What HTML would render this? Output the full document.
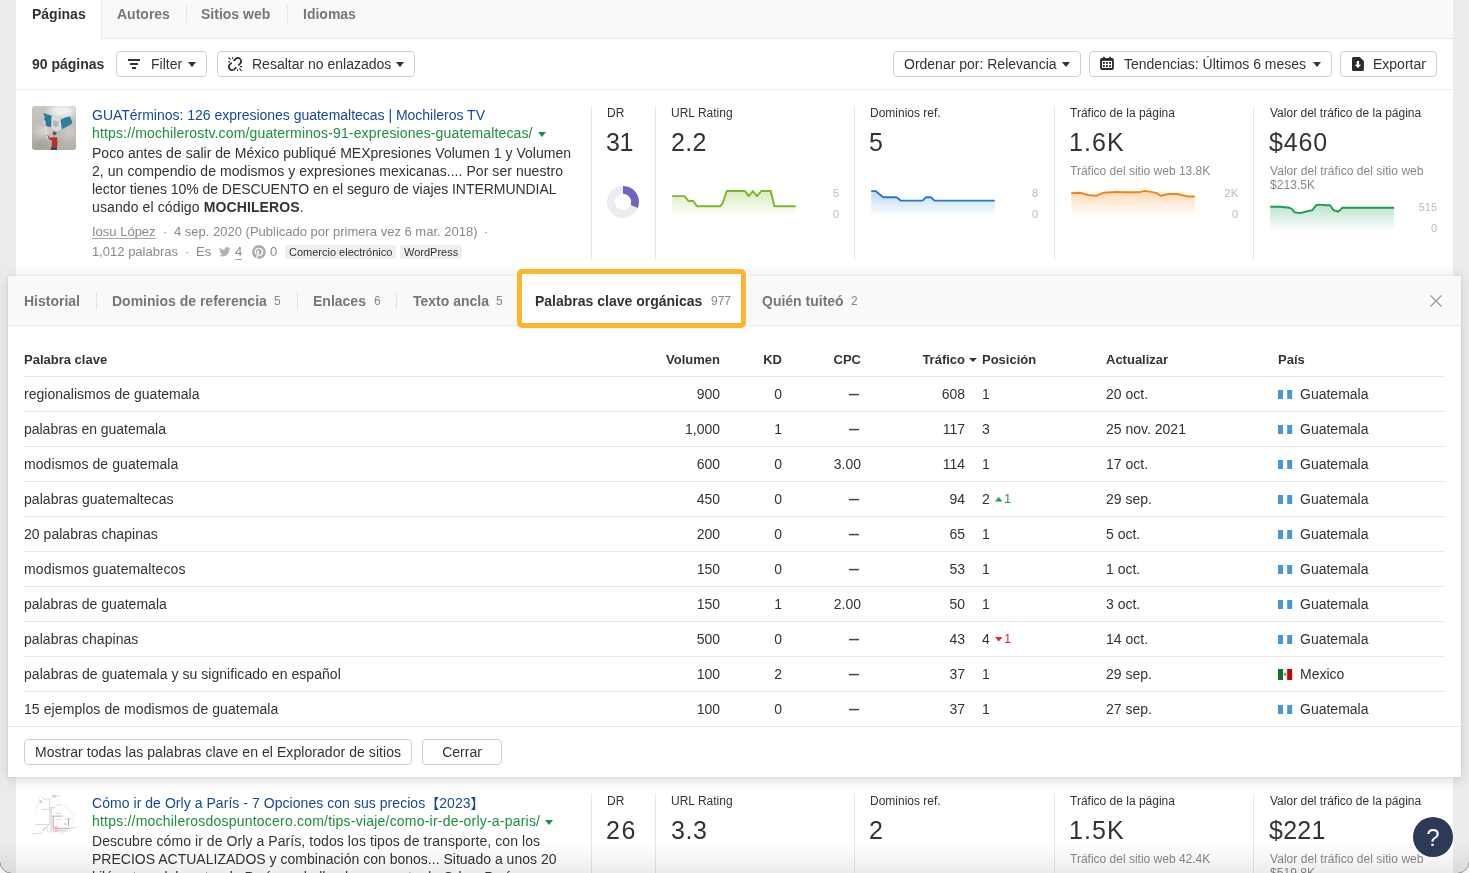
<!DOCTYPE html>
<html lang="es">
<head>
<meta charset="utf-8">
<title>Content Explorer</title>
<style>
*{box-sizing:border-box;margin:0;padding:0}
html,body{width:1469px;height:873px;overflow:hidden}
body{background:#ebecee;font-family:"Liberation Sans","Noto Sans CJK JP",sans-serif;font-size:14px;color:#333;position:relative}
#root{position:absolute;left:0;top:0;width:1469px;height:873px;will-change:transform}
.a{position:absolute;white-space:nowrap}
#panel{position:absolute;left:16px;top:0;width:1437px;height:873px;background:#fff}
#tabbar{position:absolute;left:16px;top:0;width:1437px;height:39px;background:#f9f9f9;border-bottom:1px solid #e9e9eb}
#tabact{position:absolute;left:16px;top:0;width:86px;height:39px;background:#fff;border-right:1px solid #e9e9eb}
.tab{position:absolute;top:6px;font-weight:bold;font-size:14px;line-height:16px;color:#777;white-space:nowrap}
.tsep{position:absolute;top:5px;width:1px;height:18px;background:#e6e6e6}
.hline{position:absolute;height:1px;background:#ececec}
.btn{position:absolute;top:51px;height:26px;border:1px solid #cfcfcf;border-radius:4px;background:#fff}
.bt{position:absolute;top:55px;font-size:14px;line-height:18px;color:#333;white-space:nowrap}
.caret{position:absolute;width:0;height:0;border-left:4px solid transparent;border-right:4px solid transparent;border-top:5px solid #333}
.vline{position:absolute;width:1px;background:#e8e8e8}
.lbl{position:absolute;font-size:12px;line-height:14px;color:#333;white-space:nowrap}
.big{position:absolute;font-size:25px;line-height:30px;color:#333;white-space:nowrap}
.sub{position:absolute;font-size:12px;line-height:14px;color:#888;white-space:nowrap}
.ax{position:absolute;font-size:11px;line-height:12px;color:#bbb;text-align:right;width:30px;white-space:nowrap}
.title{position:absolute;font-size:14px;line-height:18px;color:#14489e;white-space:nowrap}
.url{position:absolute;font-size:14px;line-height:18px;color:#19903f;white-space:nowrap}
.desc{position:absolute;font-size:14px;line-height:18px;color:#333;white-space:nowrap}
.meta{position:absolute;font-size:13px;line-height:18px;color:#8a8a8a;white-space:nowrap}
.chip{position:absolute;height:14px;border-radius:3px;background:#eee;font-size:11px;line-height:14px;color:#333;padding:0 4px;white-space:nowrap}
svg{position:absolute;overflow:visible}
#ov{position:absolute;left:8px;top:276px;width:1453px;height:501px;background:#fff;box-shadow:0 0 0 1px rgba(0,0,0,.035),0 2px 16px rgba(0,0,0,.12),0 5px 8px rgba(0,0,0,.045)}
#ovbar{position:absolute;left:8px;top:276px;width:1453px;height:50px;background:#f9f9f9;border-bottom:1px solid #e9e9e9}
.otab{position:absolute;top:293px;font-weight:bold;font-size:14px;line-height:16px;color:#777;white-space:nowrap}
.ocnt{position:absolute;top:294px;font-size:12px;line-height:14px;color:#888;white-space:nowrap}
.osep{position:absolute;top:292px;width:1px;height:18px;background:#e4e4e4}
#hl{position:absolute;left:517px;top:269px;width:229px;height:59px;border:5px solid #fdb52f;border-radius:5px;background:#fff}
.th{position:absolute;top:352px;font-weight:bold;font-size:13px;line-height:15px;color:#333;white-space:nowrap}
.td{position:absolute;font-size:14px;line-height:16px;color:#333;white-space:nowrap}
.r{text-align:right}
.dash{transform:scaleX(.72);transform-origin:100% 50%;font-weight:bold;color:#444}
.up{color:#1f9d55;font-size:13px}
.dn{color:#e02b2b;font-size:13px}
.obtn{position:absolute;top:739px;height:26px;border:1px solid #cfcfcf;border-radius:4px;background:#fff;font-size:14px;line-height:24px;color:#333;text-align:center;white-space:nowrap}
#botgrad{position:absolute;left:0;top:843px;width:1469px;height:30px;background:linear-gradient(rgba(0,0,0,0),rgba(0,0,0,.075))}
#help{position:absolute;left:1413px;top:817px;width:40px;height:40px;border-radius:20px;background:#2c3a57;color:#fff;font-size:24px;line-height:42px;text-align:center}
</style>
</head>
<body>
<div id="root">
<div id="panel"></div>
<div id="tabbar"></div><div id="tabact"></div>
<div class="tab" style="left:32px;color:#333">Páginas</div>
<div class="tab" style="left:117px">Autores</div>
<div class="tsep" style="left:186px"></div>
<div class="tab" style="left:201px">Sitios web</div>
<div class="tsep" style="left:287px"></div>
<div class="tab" style="left:303px">Idiomas</div>
<div class="a" style="left:32px;top:55px;font-weight:bold;font-size:14px;line-height:18px">90 páginas</div>
<div class="btn" style="left:116px;width:91px"></div>
<svg style="left:128px;top:59px" width="12" height="10" viewBox="0 0 12 10"><rect x="0" y="0" width="12" height="2" fill="#333"/><rect x="2" y="4" width="8" height="2" fill="#333"/><rect x="4" y="8" width="4" height="2" fill="#333"/></svg>
<div class="bt" style="left:151px">Filter</div>
<div class="caret" style="left:188px;top:62px"></div>
<div class="btn" style="left:217px;width:198px"></div>
<svg style="left:228px;top:57px" width="14" height="14" viewBox="0 0 14 14" fill="none" stroke="#2b2b2b"><path d="M5.6 3.8 L8.1 1.5 A3.3 3.3 0 0 1 12.6 6.1 L10.3 8.4 M3.7 5.7 L1.4 8 A3.3 3.3 0 0 0 5.9 12.6 L8.4 10.3" stroke-width="1.7"/><path d="M0.4 0.5 L2.6 2.6 M4.5 0.3 V1.9 M0.1 4.7 H2.1 M12 9.6 H14 M9.6 12.2 V14 M11.4 11.4 L13.7 13.8" stroke-width="1.1"/></svg>
<div class="bt" style="left:252px">Resaltar no enlazados</div>
<div class="caret" style="left:396px;top:62px"></div>
<div class="btn" style="left:893px;width:188px"></div>
<div class="bt" style="left:904px">Ordenar por: Relevancia</div>
<div class="caret" style="left:1062px;top:62px"></div>
<div class="btn" style="left:1089px;width:243px"></div>
<svg style="left:1100px;top:57px" width="14" height="13" viewBox="0 0 14 13"><rect x="3" y="-0.3" width="1.9" height="2.4" rx="0.7" fill="#2b2b2b"/><rect x="9" y="-0.3" width="1.9" height="2.4" rx="0.7" fill="#2b2b2b"/><rect x="0.1" y="0.9" width="13.7" height="12" rx="1.9" fill="#2b2b2b"/><rect x="2" y="3.9" width="10" height="7" fill="#fff"/><g fill="#1c1c1c"><rect x="3" y="5" width="1.8" height="1.8"/><rect x="6.05" y="5" width="1.8" height="1.8"/><rect x="9.1" y="5" width="1.8" height="1.8"/><rect x="3" y="8.1" width="1.8" height="1.8"/><rect x="6.05" y="8.1" width="1.8" height="1.8"/><rect x="9.1" y="8.1" width="1.8" height="1.8"/></g></svg>
<div class="bt" style="left:1124px">Tendencias: Últimos 6 meses</div>
<div class="caret" style="left:1313px;top:62px"></div>
<div class="btn" style="left:1340px;width:97px"></div>
<svg style="left:1352px;top:57px" width="12" height="14" viewBox="0 0 12 14"><path d="M1.5 0 H7.7 L11.9 4 V12.5 a1.5 1.5 0 0 1 -1.5 1.5 H1.5 a1.5 1.5 0 0 1 -1.5 -1.5 V1.5 A1.5 1.5 0 0 1 1.5 0 Z" fill="#2b2b2b"/><path d="M4.8 3.9 H7.1 V7.8 H9.1 L5.95 11.1 L2.8 7.8 H4.8 Z" fill="#fff"/></svg>
<div class="bt" style="left:1373px">Exportar</div>
<div class="hline" style="left:16px;top:89px;width:1437px"></div>
<svg style="left:32px;top:106px" width="44" height="44" viewBox="0 0 44 44">
<defs><clipPath id="tc1"><rect width="44" height="44" rx="3"/></clipPath>
<filter id="bl1" x="-10%" y="-10%" width="120%" height="120%"><feGaussianBlur stdDeviation="0.45"/></filter>
<filter id="bl2" x="-30%" y="-30%" width="160%" height="160%"><feGaussianBlur stdDeviation="3"/></filter>
<linearGradient id="sky" x1="0" y1="0" x2="0" y2="1"><stop offset="0" stop-color="#c9c6c1"/><stop offset="0.6" stop-color="#bdb9b3"/><stop offset="1" stop-color="#aeaaa4"/></linearGradient></defs>
<g clip-path="url(#tc1)"><rect width="44" height="44" fill="url(#sky)"/>
<g filter="url(#bl2)"><ellipse cx="30" cy="5" rx="13" ry="7" fill="#f1f1f0"/><ellipse cx="12" cy="25" rx="8" ry="4" fill="#dedcd8"/><ellipse cx="37" cy="27" rx="7" ry="6" fill="#cfccc7"/><ellipse cx="8" cy="40" rx="10" ry="4" fill="#a39f99"/><ellipse cx="36" cy="41" rx="9" ry="4" fill="#b8b4ae"/></g>
<g filter="url(#bl1)">
<path d="M11.2 7.4 L13.2 19.5 L15.9 33" stroke="#e4e4e4" stroke-width="0.8" fill="none"/>
<path d="M10.7 6.9 L19.7 9.8 L19.4 21 L15.8 20.6 L13.6 19.4 L13.9 16 L12 13.2 L12.6 10.4 Z" fill="#2b7a9a"/>
<path d="M19.7 9.8 L28.6 13.8 L29.4 22.9 L26.5 25 L23.4 25 L19.4 21.4 Z" fill="#d9dde0"/>
<path d="M28.6 13.8 L33 11.6 L38.1 10.5 L40.2 16.2 L38.8 18.4 L29.9 23.3 Z" fill="#2f7f9e"/>
<path d="M21.2 14.2 L26.8 15.4 L26.4 19.6 L23.6 21.4 L21 19.2 Z" fill="#aeb9be"/>
<circle cx="22.5" cy="27.4" r="1.9" fill="#6b5a55"/><path d="M21 25.9 h3.4 v1 h-3.4z" fill="#4f5458"/>
<path d="M14.6 29 L15.6 30 L17 33 L20 34.6 L19.6 41.4 L25 41.4 L25.6 35.6 L24.8 31.3 L21 31.3 L17.9 32 L16 29.4 Z" fill="#b4302d"/>
<path d="M18.9 41.2 H25 V44 H18.9 Z" fill="#44433f"/></g></g></svg>
<div class="title" style="left:92px;top:106px;letter-spacing:-0.013px;">GUATérminos: 126 expresiones guatemaltecas | Mochileros TV</div>
<div class="url" style="left:92px;top:124px;letter-spacing:0.149px;">https://mochilerostv.com/guaterminos-91-expresiones-guatemaltecas/ <span style="display:inline-block;width:0;height:0;border-left:4px solid transparent;border-right:4px solid transparent;border-top:5px solid #19903f;vertical-align:1px;margin-left:1px;letter-spacing:0"></span></div>
<div class="desc" style="left:92px;top:144px;letter-spacing:0.017px;">Poco antes de salir de México publiqué MEXpresiones Volumen 1 y Volumen</div>
<div class="desc" style="left:92px;top:162px;letter-spacing:0.058px;">2, un compendio de modismos y expresiones mexicanas.... Por ser nuestro</div>
<div class="desc" style="left:92px;top:180px;letter-spacing:-0.044px;">lector tienes 10% de DESCUENTO en el seguro de viajes INTERMUNDIAL</div>
<div class="desc" style="left:92px;top:198px;letter-spacing:0.113px;">usando el código <b>MOCHILEROS</b>.</div>
<div class="meta" style="left:92px;top:223px"><span style="border-bottom:1px solid #aaa;display:inline-block;line-height:12px">Iosu López</span></div><div class="meta" style="left:163px;top:223px">·</div><div class="meta" style="left:174px;top:223px">4 sep. 2020 (Publicado por primera vez 6 mar. 2018)</div><div class="meta" style="left:484px;top:223px">·</div><div class="meta" style="left:92px;top:243px">1,012 palabras</div><div class="meta" style="left:185px;top:243px">·</div><div class="meta" style="left:196px;top:243px">Es</div><svg style="left:219px;top:247px" width="11.5" height="9.8" viewBox="0 0 24 20"><path fill="#b2b2b2" d="M24 2.4c-.9.4-1.8.7-2.8.8 1-.6 1.8-1.600 2.200-2.700-1 .6-2 1-3.100 1.200C19.400.7 18.100 0 16.600 0c-2.700 0-4.900 2.200-4.900 4.900 0 .4 0 .8.100 1.100C7.700 5.800 4.100 3.900 1.700.9 1.200 1.700 1 2.500 1 3.400c0 1.700.9 3.200 2.200 4.100-.8 0-1.600-.2-2.200-.6v.1c0 2.400 1.700 4.400 3.900 4.800-.4.100-.8.200-1.300.2-.3 0-.6 0-.9-.1.600 2 2.400 3.400 4.600 3.400-1.700 1.300-3.800 2.100-6.100 2.100-.4 0-.8 0-1.200-.1C2.200 18.700 4.800 19.500 7.500 19.500c9.100 0 14-7.500 14-14v-.6c1-.7 1.800-1.600 2.500-2.500z"/></svg><div class="meta" style="left:235px;top:243px"><span style="border-bottom:1px solid #aaa;display:inline-block;line-height:15px">4</span></div><svg style="left:252px;top:245px" width="13.8" height="13.8" viewBox="0 0 24 24"><path fill="#adadad" d="M12 0C5.400 0 0 5.400 0 12c0 5.100 3.200 9.400 7.600 11.200-.1-.9-.2-2.400 0-3.400.2-.9 1.400-6 1.400-6s-.4-.7-.4-1.800c0-1.700 1-2.900 2.200-2.900 1 0 1.500.8 1.500 1.700 0 1-.7 2.600-1 4-.3 1.200.6 2.200 1.800 2.200 2.100 0 3.800-2.200 3.800-5.500 0-2.900-2.100-4.900-5-4.900-3.400 0-5.400 2.600-5.400 5.200 0 1 .4 2.100.9 2.700.1.100.1.200.1.300-.1.400-.3 1.200-.3 1.400-.1.200-.2.300-.4.200-1.500-.7-2.400-2.900-2.400-4.600 0-3.800 2.800-7.200 7.900-7.200 4.200 0 7.400 3 7.400 6.900 0 4.100-2.600 7.500-6.200 7.500-1.200 0-2.400-.6-2.800-1.400l-.7 2.900c-.3 1-1 2.300-1.500 3.100 1.100.3 2.300.5 3.500.5 6.600 0 12-5.400 12-12S18.600 0 12 0z"/></svg><div class="meta" style="left:270px;top:243px">0</div><div class="chip" style="left:285px;top:245px">Comercio electrónico</div><div class="chip" style="left:400px;top:245px">WordPress</div>
<div class="vline" style="left:591px;top:106px;height:154px"></div>
<div class="vline" style="left:655px;top:106px;height:154px"></div>
<div class="vline" style="left:854px;top:106px;height:154px"></div>
<div class="vline" style="left:1054px;top:106px;height:154px"></div>
<div class="vline" style="left:1253px;top:106px;height:154px"></div>
<div class="lbl" style="left:607px;top:106px">DR</div>
<div class="big" style="left:606px;top:127px;letter-spacing:-0.5px">31</div>
<div class="lbl" style="left:671px;top:106px">URL Rating</div>
<div class="big" style="left:671px;top:127px;letter-spacing:0.375px">2.2</div>
<div class="lbl" style="left:870px;top:106px">Dominios ref.</div>
<div class="big" style="left:869px;top:127px;letter-spacing:0px">5</div>
<div class="lbl" style="left:1070px;top:106px">Tráfico de la página</div>
<div class="big" style="left:1069px;top:127px;letter-spacing:1.08px">1.6K</div>
<div class="lbl" style="left:1270px;top:106px">Valor del tráfico de la página</div>
<div class="big" style="left:1269px;top:127px;letter-spacing:0.83px">$460</div>
<div class="sub" style="left:1070px;top:164px">Tráfico del sitio web 13.8K</div>
<div class="sub" style="left:1270px;top:164px;white-space:normal;width:175px;letter-spacing:.055px">Valor del tráfico del sitio web $213.5K</div>
<svg style="left:0;top:0" width="1469" height="873" viewBox="0 0 1469 873"><circle cx="623" cy="202" r="12.1" fill="none" stroke="#ebecf0" stroke-width="7.8"/><path d="M623.00 186.00 A16 16 0 0 1 637.88 207.89 L630.62 205.02 A8.2 8.2 0 0 0 623.00 193.80 Z" fill="#7260c3"/></svg>
<svg style="left:0;top:0" width="1469" height="873" viewBox="0 0 1469 873"><defs><linearGradient id="g1" gradientUnits="userSpaceOnUse" x1="0" y1="191.0" x2="0" y2="216.0"><stop offset="0" stop-color="#7db526" stop-opacity=".30"/><stop offset="1" stop-color="#7db526" stop-opacity="0"/></linearGradient></defs><path d="M672.2 196.1 L684.6 196.1 L688.5 201.0 L693.3 201.0 L697.0 206.3 L720.0 206.3 L722.3 204.0 L726.8 191.0 L745.0 191.0 L748.7 196.1 L752.8 191.0 L756.9 196.1 L761.3 191.0 L770.7 191.0 L774.4 206.3 L795.7 206.3 L795.7 216.0 L672.2 216.0 Z" fill="url(#g1)"/><path d="M672.2 196.1 L684.6 196.1 L688.5 201.0 L693.3 201.0 L697.0 206.3 L720.0 206.3 L722.3 204.0 L726.8 191.0 L745.0 191.0 L748.7 196.1 L752.8 191.0 L756.9 196.1 L761.3 191.0 L770.7 191.0 L774.4 206.3 L795.7 206.3" fill="none" stroke="#7db526" stroke-width="1.9" stroke-linejoin="round"/></svg>
<svg style="left:0;top:0" width="1469" height="873" viewBox="0 0 1469 873"><defs><linearGradient id="g2" gradientUnits="userSpaceOnUse" x1="0" y1="191.1" x2="0" y2="216.0"><stop offset="0" stop-color="#2478d4" stop-opacity=".30"/><stop offset="1" stop-color="#2478d4" stop-opacity="0"/></linearGradient></defs><path d="M871.2 191.1 L875.7 191.1 L883.1 197.2 L896.5 197.2 L900.6 200.6 L922.6 200.6 L926.0 197.2 L930.8 197.2 L934.6 200.6 L994.8 200.6 L994.8 216.0 L871.2 216.0 Z" fill="url(#g2)"/><path d="M871.2 191.1 L875.7 191.1 L883.1 197.2 L896.5 197.2 L900.6 200.6 L922.6 200.6 L926.0 197.2 L930.8 197.2 L934.6 200.6 L994.8 200.6" fill="none" stroke="#2478d4" stroke-width="1.9" stroke-linejoin="round"/></svg>
<svg style="left:0;top:0" width="1469" height="873" viewBox="0 0 1469 873"><defs><linearGradient id="g3" gradientUnits="userSpaceOnUse" x1="0" y1="190.9" x2="0" y2="216.0"><stop offset="0" stop-color="#ff7f0e" stop-opacity=".30"/><stop offset="1" stop-color="#ff7f0e" stop-opacity="0"/></linearGradient></defs><path d="M1071.2 193.1 L1080.4 192.8 L1087.9 195.0 L1096.1 195.8 L1103.6 192.7 L1116.5 191.9 L1124.0 192.3 L1139.0 192.3 L1144.4 190.9 L1149.9 191.6 L1156.7 193.1 L1160.7 195.7 L1168.9 194.0 L1177.1 194.0 L1188.0 196.5 L1194.8 196.5 L1194.8 216.0 L1071.2 216.0 Z" fill="url(#g3)"/><path d="M1071.2 193.1 L1080.4 192.8 L1087.9 195.0 L1096.1 195.8 L1103.6 192.7 L1116.5 191.9 L1124.0 192.3 L1139.0 192.3 L1144.4 190.9 L1149.9 191.6 L1156.7 193.1 L1160.7 195.7 L1168.9 194.0 L1177.1 194.0 L1188.0 196.5 L1194.8 196.5" fill="none" stroke="#ff7f0e" stroke-width="1.9" stroke-linejoin="round"/></svg>
<svg style="left:0;top:0" width="1469" height="873" viewBox="0 0 1469 873"><defs><linearGradient id="g4" gradientUnits="userSpaceOnUse" x1="0" y1="204.6" x2="0" y2="231.0"><stop offset="0" stop-color="#1f9d55" stop-opacity=".30"/><stop offset="1" stop-color="#1f9d55" stop-opacity="0"/></linearGradient></defs><path d="M1270.2 206.7 L1280.4 206.7 L1289.3 207.7 L1292.0 209.0 L1294.7 212.4 L1300.2 213.1 L1306.3 211.5 L1312.4 210.1 L1316.5 204.9 L1320.0 204.6 L1325.4 205.3 L1330.1 205.3 L1333.5 210.1 L1337.6 211.5 L1339.6 210.7 L1342.4 207.7 L1394.1 207.7 L1394.1 231.0 L1270.2 231.0 Z" fill="url(#g4)"/><path d="M1270.2 206.7 L1280.4 206.7 L1289.3 207.7 L1292.0 209.0 L1294.7 212.4 L1300.2 213.1 L1306.3 211.5 L1312.4 210.1 L1316.5 204.9 L1320.0 204.6 L1325.4 205.3 L1330.1 205.3 L1333.5 210.1 L1337.6 211.5 L1339.6 210.7 L1342.4 207.7 L1394.1 207.7" fill="none" stroke="#1f9d55" stroke-width="1.9" stroke-linejoin="round"/></svg>
<div class="ax" style="left:809px;top:187px">5</div>
<div class="ax" style="left:809px;top:208px">0</div>
<div class="ax" style="left:1008px;top:187px">8</div>
<div class="ax" style="left:1008px;top:208px">0</div>
<div class="ax" style="left:1208px;top:187px">2K</div>
<div class="ax" style="left:1208px;top:208px">0</div>
<div class="ax" style="left:1407px;top:201px">515</div>
<div class="ax" style="left:1407px;top:222px">0</div>
<svg style="left:32px;top:794px" width="44" height="44" viewBox="0 0 44 44" fill="none" stroke-linecap="round">
<defs><filter id="bl3" x="-10%" y="-10%" width="120%" height="120%"><feGaussianBlur stdDeviation="0.35"/></filter></defs>
<g filter="url(#bl3)" opacity=".55">
<path d="M17.6 5.5 V29.8 L11.2 36.9" stroke="#a9cbea" stroke-width="1"/>
<path d="M19.2 13.8 V36.2 H35" stroke="#e85a76" stroke-width="0.8"/>
<path d="M19.2 13.8 H23" stroke="#e85a76" stroke-width="0.8"/>
<path d="M21.2 22.1 H30.1 M21.2 22.1 V34.3 H37.5 M36.5 24 V31.6" stroke="#4a4a4a" stroke-width="0.8"/>
<path d="M9.9 15.4 H18.3 M3.5 30.5 H17.6 M9.9 3.5 L12.6 5.6 L15.6 4.4 L17.8 5.6 L20 3.4 L21.4 1.8 H28 M24 25.3 H28.6 M23.8 19.4 H28 M24 11 H28.6 M0.6 39.8 L9.6 39 M33 25.4 H39 M38.5 33.7 H43.6 M29 41 L31 39" stroke="#8d8d8d" stroke-width="0.6"/>
<path d="M21.5 1.6 L24.5 4 L41.4 20.8 V28" stroke="#b3dfae" stroke-width="0.7"/>
<path d="M2.4 19.8 L4 18.6 C5 12 4.6 10.6 7 6.4 M7.2 2.6 V6.6" stroke="#f3c79a" stroke-width="0.7"/>
<path d="M15.6 32 V37.8 H35" stroke="#8fd0d0" stroke-width="0.8"/>
<path d="M8.8 6.4 L9.6 8.6 H8 Z" stroke="#49a89a" stroke-width="0.8"/>
<path d="M21 1.4 L23 3" stroke="#4f7fd0" stroke-width="1.2"/>
<rect x="32.4" y="28.8" width="2.2" height="2.2" fill="#8ad05c" stroke="none"/>
<circle cx="24" cy="33.8" r="1.7" fill="#e85a76" stroke="none" opacity=".7"/><circle cx="24" cy="36.8" r="1.5" fill="#e85a76" stroke="none" opacity=".5"/>
<path d="M11.4 36 L13.6 33.6" stroke="#6aa5e0" stroke-width="1.2"/>
</g></svg>
<div class="title" style="left:92px;top:794px;letter-spacing:0.049px;">Cómo ir de Orly a París - 7 Opciones con sus precios【2023】</div>
<div class="url" style="left:92px;top:812px;letter-spacing:0.212px;">https://mochilerosdospuntocero.com/tips-viaje/como-ir-de-orly-a-paris/ <span style="display:inline-block;width:0;height:0;border-left:4px solid transparent;border-right:4px solid transparent;border-top:5px solid #19903f;vertical-align:1px;margin-left:1px;letter-spacing:0"></span></div>
<div class="desc" style="left:92px;top:832px;letter-spacing:0.074px;">Descubre cómo ir de Orly a París, todos los tipos de transporte, con los</div>
<div class="desc" style="left:92px;top:850px;letter-spacing:0.011px;">PRECIOS ACTUALIZADOS y combinación con bonos... Situado a unos 20</div>
<div class="desc" style="left:92px;top:868px;">kilómetros del centro de París, se halla el aeropuerto de Orly a París</div>
<div class="vline" style="left:591px;top:794px;height:154px"></div>
<div class="vline" style="left:655px;top:794px;height:154px"></div>
<div class="vline" style="left:854px;top:794px;height:154px"></div>
<div class="vline" style="left:1054px;top:794px;height:154px"></div>
<div class="vline" style="left:1253px;top:794px;height:154px"></div>
<div class="lbl" style="left:607px;top:794px">DR</div>
<div class="big" style="left:606px;top:815px;letter-spacing:1.6px">26</div>
<div class="lbl" style="left:671px;top:794px">URL Rating</div>
<div class="big" style="left:671px;top:815px;letter-spacing:0.6px">3.3</div>
<div class="lbl" style="left:870px;top:794px">Dominios ref.</div>
<div class="big" style="left:869px;top:815px;letter-spacing:0px">2</div>
<div class="lbl" style="left:1070px;top:794px">Tráfico de la página</div>
<div class="big" style="left:1069px;top:815px;letter-spacing:1.08px">1.5K</div>
<div class="lbl" style="left:1270px;top:794px">Valor del tráfico de la página</div>
<div class="big" style="left:1269px;top:815px;letter-spacing:0.25px">$221</div>
<div class="sub" style="left:1070px;top:852px">Tráfico del sitio web 42.4K</div>
<div class="sub" style="left:1270px;top:852px;white-space:normal;width:175px;letter-spacing:.055px">Valor del tráfico del sitio web $519.8K</div>
<div id="ov"></div><div id="ovbar"></div>
<div class="otab" style="left:24px">Historial</div>
<div class="osep" style="left:96px"></div>
<div class="otab" style="left:112px">Dominios de referencia</div><div class="ocnt" style="left:274px">5</div>
<div class="osep" style="left:297px"></div>
<div class="otab" style="left:313px">Enlaces</div><div class="ocnt" style="left:374px">6</div>
<div class="osep" style="left:396px"></div>
<div class="otab" style="left:413px">Texto ancla</div><div class="ocnt" style="left:496px">5</div>
<div id="hl"></div>
<div class="otab" style="left:535px;color:#333">Palabras clave orgánicas</div><div class="ocnt" style="left:711px">977</div>
<div class="otab" style="left:762px">Quién tuiteó</div><div class="ocnt" style="left:851px">2</div>
<svg style="left:1430px;top:295px" width="12" height="12" viewBox="0 0 12 12"><path d="M0.5 0.5 L11.5 11.5 M11.5 0.5 L0.5 11.5" stroke="#999" stroke-width="1.3" fill="none"/></svg>
<div class="th" style="left:24px">Palabra clave</div>
<div class="th r" style="left:620px;width:100px;top:352px">Volumen</div>
<div class="th r" style="left:682px;width:100px;top:352px">KD</div>
<div class="th r" style="left:761px;width:100px;top:352px">CPC</div>
<div class="th r" style="left:865px;width:100px;top:352px">Tráfico</div>
<div class="caret" style="left:969px;top:358px;border-left-width:4px;border-right-width:4px;border-top-width:4px"></div>
<div class="th" style="left:982px">Posición</div>
<div class="th" style="left:1106px">Actualizar</div>
<div class="th" style="left:1278px">País</div>
<div class="hline" style="left:24px;top:376px;width:1421px;background:#e6e6e6"></div>
<div class="td" style="left:24px;top:386px;letter-spacing:0.016px;">regionalismos de guatemala</div>
<div class="td r" style="left:620px;width:100px;top:386px">900</div>
<div class="td r" style="left:682px;width:100px;top:386px">0</div>
<div class="td r dash" style="left:759px;width:100px;top:386px">—</div>
<div class="td r" style="left:865px;width:100px;top:386px">608</div>
<div class="td" style="left:982px;top:386px">1</div>
<div class="td" style="left:1106px;top:386px">20 oct.</div>
<svg style="left:1278px;top:390px" width="14.2" height="9" viewBox="0 0 14.2 9"><rect width="5" height="9" fill="#4998d3"/><rect x="9.2" width="5" height="9" fill="#4998d3"/></svg>
<div class="td" style="left:1300px;top:386px">Guatemala</div>
<div class="hline" style="left:24px;top:411px;width:1421px;background:#e8e8e8"></div>
<div class="td" style="left:24px;top:421px;letter-spacing:-0.022px;">palabras en guatemala</div>
<div class="td r" style="left:620px;width:100px;top:421px">1,000</div>
<div class="td r" style="left:682px;width:100px;top:421px">1</div>
<div class="td r dash" style="left:759px;width:100px;top:421px">—</div>
<div class="td r" style="left:865px;width:100px;top:421px">117</div>
<div class="td" style="left:982px;top:421px">3</div>
<div class="td" style="left:1106px;top:421px">25 nov. 2021</div>
<svg style="left:1278px;top:425px" width="14.2" height="9" viewBox="0 0 14.2 9"><rect width="5" height="9" fill="#4998d3"/><rect x="9.2" width="5" height="9" fill="#4998d3"/></svg>
<div class="td" style="left:1300px;top:421px">Guatemala</div>
<div class="hline" style="left:24px;top:446px;width:1421px;background:#e8e8e8"></div>
<div class="td" style="left:24px;top:456px;letter-spacing:0.088px;">modismos de guatemala</div>
<div class="td r" style="left:620px;width:100px;top:456px">600</div>
<div class="td r" style="left:682px;width:100px;top:456px">0</div>
<div class="td r" style="left:761px;width:100px;top:456px">3.00</div>
<div class="td r" style="left:865px;width:100px;top:456px">114</div>
<div class="td" style="left:982px;top:456px">1</div>
<div class="td" style="left:1106px;top:456px">17 oct.</div>
<svg style="left:1278px;top:460px" width="14.2" height="9" viewBox="0 0 14.2 9"><rect width="5" height="9" fill="#4998d3"/><rect x="9.2" width="5" height="9" fill="#4998d3"/></svg>
<div class="td" style="left:1300px;top:456px">Guatemala</div>
<div class="hline" style="left:24px;top:481px;width:1421px;background:#e8e8e8"></div>
<div class="td" style="left:24px;top:491px;letter-spacing:0.040px;">palabras guatemaltecas</div>
<div class="td r" style="left:620px;width:100px;top:491px">450</div>
<div class="td r" style="left:682px;width:100px;top:491px">0</div>
<div class="td r dash" style="left:759px;width:100px;top:491px">—</div>
<div class="td r" style="left:865px;width:100px;top:491px">94</div>
<div class="td" style="left:982px;top:491px">2</div>
<svg style="left:994.5px;top:496.7px" width="7.5" height="4.4" viewBox="0 0 7.5 4.4"><path d="M0 4.4 L3.75 0 L7.5 4.4 Z" fill="#1f9d55"/></svg>
<div class="td up" style="left:1004px;top:491px">1</div>
<div class="td" style="left:1106px;top:491px">29 sep.</div>
<svg style="left:1278px;top:495px" width="14.2" height="9" viewBox="0 0 14.2 9"><rect width="5" height="9" fill="#4998d3"/><rect x="9.2" width="5" height="9" fill="#4998d3"/></svg>
<div class="td" style="left:1300px;top:491px">Guatemala</div>
<div class="hline" style="left:24px;top:516px;width:1421px;background:#e8e8e8"></div>
<div class="td" style="left:24px;top:526px;letter-spacing:0.036px;">20 palabras chapinas</div>
<div class="td r" style="left:620px;width:100px;top:526px">200</div>
<div class="td r" style="left:682px;width:100px;top:526px">0</div>
<div class="td r dash" style="left:759px;width:100px;top:526px">—</div>
<div class="td r" style="left:865px;width:100px;top:526px">65</div>
<div class="td" style="left:982px;top:526px">1</div>
<div class="td" style="left:1106px;top:526px">5 oct.</div>
<svg style="left:1278px;top:530px" width="14.2" height="9" viewBox="0 0 14.2 9"><rect width="5" height="9" fill="#4998d3"/><rect x="9.2" width="5" height="9" fill="#4998d3"/></svg>
<div class="td" style="left:1300px;top:526px">Guatemala</div>
<div class="hline" style="left:24px;top:551px;width:1421px;background:#e8e8e8"></div>
<div class="td" style="left:24px;top:561px;letter-spacing:0.131px;">modismos guatemaltecos</div>
<div class="td r" style="left:620px;width:100px;top:561px">150</div>
<div class="td r" style="left:682px;width:100px;top:561px">0</div>
<div class="td r dash" style="left:759px;width:100px;top:561px">—</div>
<div class="td r" style="left:865px;width:100px;top:561px">53</div>
<div class="td" style="left:982px;top:561px">1</div>
<div class="td" style="left:1106px;top:561px">1 oct.</div>
<svg style="left:1278px;top:565px" width="14.2" height="9" viewBox="0 0 14.2 9"><rect width="5" height="9" fill="#4998d3"/><rect x="9.2" width="5" height="9" fill="#4998d3"/></svg>
<div class="td" style="left:1300px;top:561px">Guatemala</div>
<div class="hline" style="left:24px;top:586px;width:1421px;background:#e8e8e8"></div>
<div class="td" style="left:24px;top:596px;letter-spacing:0.018px;">palabras de guatemala</div>
<div class="td r" style="left:620px;width:100px;top:596px">150</div>
<div class="td r" style="left:682px;width:100px;top:596px">1</div>
<div class="td r" style="left:761px;width:100px;top:596px">2.00</div>
<div class="td r" style="left:865px;width:100px;top:596px">50</div>
<div class="td" style="left:982px;top:596px">1</div>
<div class="td" style="left:1106px;top:596px">3 oct.</div>
<svg style="left:1278px;top:600px" width="14.2" height="9" viewBox="0 0 14.2 9"><rect width="5" height="9" fill="#4998d3"/><rect x="9.2" width="5" height="9" fill="#4998d3"/></svg>
<div class="td" style="left:1300px;top:596px">Guatemala</div>
<div class="hline" style="left:24px;top:621px;width:1421px;background:#e8e8e8"></div>
<div class="td" style="left:24px;top:631px;letter-spacing:0.041px;">palabras chapinas</div>
<div class="td r" style="left:620px;width:100px;top:631px">500</div>
<div class="td r" style="left:682px;width:100px;top:631px">0</div>
<div class="td r dash" style="left:759px;width:100px;top:631px">—</div>
<div class="td r" style="left:865px;width:100px;top:631px">43</div>
<div class="td" style="left:982px;top:631px">4</div>
<svg style="left:994.5px;top:637.4px" width="7.5" height="4.6" viewBox="0 0 7.5 4.6"><path d="M0 0 L3.75 4.6 L7.5 0 Z" fill="#e02b2b"/></svg>
<div class="td dn" style="left:1004px;top:631px">1</div>
<div class="td" style="left:1106px;top:631px">14 oct.</div>
<svg style="left:1278px;top:635px" width="14.2" height="9" viewBox="0 0 14.2 9"><rect width="5" height="9" fill="#4998d3"/><rect x="9.2" width="5" height="9" fill="#4998d3"/></svg>
<div class="td" style="left:1300px;top:631px">Guatemala</div>
<div class="hline" style="left:24px;top:656px;width:1421px;background:#e8e8e8"></div>
<div class="td" style="left:24px;top:666px;letter-spacing:0.049px;">palabras de guatemala y su significado en español</div>
<div class="td r" style="left:620px;width:100px;top:666px">100</div>
<div class="td r" style="left:682px;width:100px;top:666px">2</div>
<div class="td r dash" style="left:759px;width:100px;top:666px">—</div>
<div class="td r" style="left:865px;width:100px;top:666px">37</div>
<div class="td" style="left:982px;top:666px">1</div>
<div class="td" style="left:1106px;top:666px">29 sep.</div>
<svg style="left:1278px;top:669px" width="14.2" height="11" viewBox="0 0 14.2 11"><rect width="5" height="11" fill="#0a7526"/><rect x="9.2" width="5" height="11" fill="#c40505"/><ellipse cx="7.1" cy="5.3" rx="1.3" ry="1.6" fill="#a8927c"/><circle cx="7.3" cy="4.9" r="0.6" fill="#8a4a3a"/></svg>
<div class="td" style="left:1300px;top:666px">Mexico</div>
<div class="hline" style="left:24px;top:691px;width:1421px;background:#e8e8e8"></div>
<div class="td" style="left:24px;top:701px;letter-spacing:0.084px;">15 ejemplos de modismos de guatemala</div>
<div class="td r" style="left:620px;width:100px;top:701px">100</div>
<div class="td r" style="left:682px;width:100px;top:701px">0</div>
<div class="td r dash" style="left:759px;width:100px;top:701px">—</div>
<div class="td r" style="left:865px;width:100px;top:701px">37</div>
<div class="td" style="left:982px;top:701px">1</div>
<div class="td" style="left:1106px;top:701px">27 sep.</div>
<svg style="left:1278px;top:705px" width="14.2" height="9" viewBox="0 0 14.2 9"><rect width="5" height="9" fill="#4998d3"/><rect x="9.2" width="5" height="9" fill="#4998d3"/></svg>
<div class="td" style="left:1300px;top:701px">Guatemala</div>
<div class="hline" style="left:8px;top:726px;width:1453px;background:#e8e8e8"></div>
<div class="obtn" style="left:24px;width:388px;letter-spacing:0.06px">Mostrar todas las palabras clave en el Explorador de sitios</div>
<div class="obtn" style="left:422px;width:80px">Cerrar</div>
<div id="botgrad"></div><svg style="left:0;top:862px" width="11" height="11" viewBox="0 0 11 11"><path d="M0 0 A11 11 0 0 0 11 11 H0 Z" fill="#f4f4f4"/><path d="M0 0 A11 11 0 0 0 11 11" fill="none" stroke="#9a9a9a" stroke-width="1"/></svg><svg style="left:1458px;top:862px" width="11" height="11" viewBox="0 0 11 11"><path d="M11 0 A11 11 0 0 1 0 11 H11 Z" fill="#f4f4f4"/><path d="M11 0 A11 11 0 0 1 0 11" fill="none" stroke="#9a9a9a" stroke-width="1"/></svg>
<div id="help">?</div>
</div>
</body>
</html>
